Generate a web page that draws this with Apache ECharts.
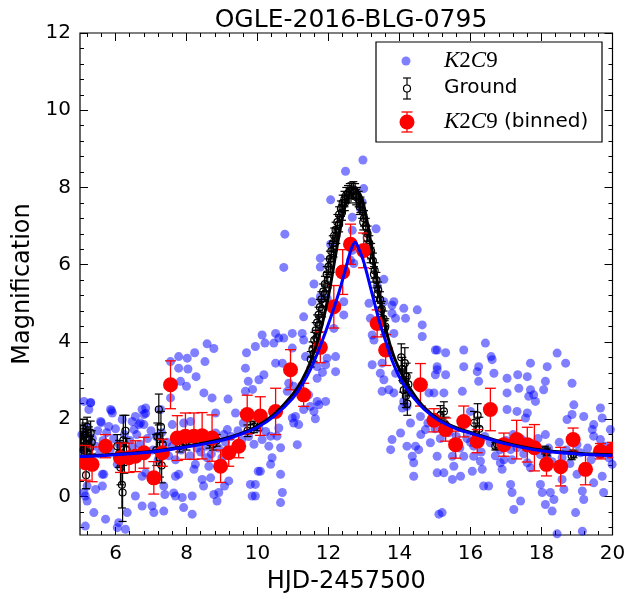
<!DOCTYPE html>
<html><head><meta charset="utf-8">
<script src="https://cdn.jsdelivr.net/npm/echarts@6/dist/echarts.min.js"></script>
<style>html,body{margin:0;padding:0;background:#fff}#c{width:639px;height:599px}</style>
</head><body><div id="c"></div>
<script>
const titleText = 'OGLE-2016-BLG-0795';
const xAxisTitle = 'HJD-2457500';
const yAxisTitle = 'Magnification';
const xMajorTicks = [6, 8, 10, 12, 14, 16, 18, 20];
const yMajorTicks = [0, 2, 4, 6, 8, 10, 12];

// K2C9 raw photometry [x, magnification]
const k2c9Points = [
[8.58,3.95],[8.77,3.83],[7.78,3.62],[8.02,3.58],[8.23,3.72],[7.55,3.49],[7.78,3.32],[8.04,3.30],[8.52,3.49],[8.27,3.10],
[7.83,2.98],[8.0,2.85],[9.69,3.72],[9.94,3.88],[9.66,3.32],[9.74,2.98],[9.66,2.72],[9.86,2.77],[8.49,2.68],[8.72,2.55],
[9.17,2.52],[7.55,2.55],[5.30,2.43],[5.25,2.25],[5.89,2.22],[6.85,2.29],[6.85,2.15],[5.6,1.91],[5.81,1.81],[6.47,1.94],
[6.70,1.90],[6.80,1.86],[6.52,1.73],[7.6,1.86],[7.92,1.90],[8.11,1.94],[8.82,2.16],[8.82,1.64],[9.38,2.16],[9.15,1.73],
[8.63,0.78],[8.21,0.70],[8.44,0.44],[8.48,0.27],[8.68,0.48],[8.77,0.05],[8.86,-0.12],[8.91,0.10],[9.19,0.40],[9.07,0.27],
[7.69,0.52],[7.78,0.57],[7.64,0.09],[7.69,0.01],[7.88,-0.03],[8.16,0.01],[7.39,0.05],[7.36,-0.38],[7.92,-0.29],[8.16,-0.46],
[7.03,-0.25],[7.08,-0.42],[6.75,-0.25],[6.56,0.01],[6.33,-0.42],[6.09,-0.68],[6.05,-0.81],[6.28,-0.85],[5.72,-0.59],[5.39,-0.42],
[5.15,0.01],[5.20,-0.12],[5.44,0.18],[5.15,-0.77],[5.2,0.27],[5.63,0.57],[6.05,0.83],[6.61,1.04],[6.75,0.52],[6.85,0.61],
[7.36,0.27],[7.69,0.95],[8.58,1.0],[9.0,1.0],[9.8,0.31],[9.85,0.01],[10.02,0.65],[8.25,0.83],
[5.11,2.46],[5.30,2.42],[5.58,1.94],[5.86,2.25],[5.91,2.16],[6.19,1.99],[6.56,2.07],[6.66,1.86],[6.75,2.25],[6.80,2.12],
[7.27,2.25],[5.11,0.10],[5.67,0.57],[5.63,0.27],
[10.51,4.22],[10.60,4.10],[10.21,3.97],[10.46,3.97],[10.13,4.18],[11.26,4.22],[11.30,4.05],[10.74,4.10],[10.98,3.84],[10.70,3.45],
[10.51,3.45],[11.35,3.62],[11.68,3.36],[11.92,3.41],[11.96,3.58],[12.2,3.62],[11.83,3.21],[11.68,3.06],[12.2,3.23],[10.18,3.15],
[10.04,3.02],[10.88,2.93],[10.84,2.72],[11.02,2.85],[11.44,2.63],[11.68,2.46],[11.92,2.46],[11.73,2.37],[11.49,2.33],[11.59,2.20],
[11.30,2.25],[11.07,2.07],[10.98,2.03],[11.63,2.01],[11.16,1.86],[11.02,1.90],[10.60,1.77],[10.55,1.56],[10.37,1.56],[10.32,1.30],
[10.04,1.77],[10.23,1.68],[10.13,1.47],[10.65,1.26],[10.41,1.0],[10.08,0.65],[10.37,0.83],[11.12,1.34],[10.65,0.57],[10.70,0.10],
[10.65,-0.16],[9.94,0.31],[9.94,0.01],
[13.23,3.41],[13.51,3.45],[13.46,3.19],[13.56,3.02],[13.23,4.18],[13.28,4.05],[13.84,4.22],[14.64,4.14],[13.89,3.19],[13.51,2.72],
[13.70,2.76],[13.84,2.68],[14.12,2.46],[14.08,2.29],[14.21,2.33],[14.59,2.07],[15.01,3.79],[15.06,3.28],[14.83,2.68],[13.79,1.47],
[13.75,1.21],[14.03,1.64],[14.31,1.90],[14.21,1.30],[14.45,1.30],[14.54,1.21],[14.36,1.04],[14.40,0.87],[14.87,1.39],[14.73,1.73],
[14.40,0.52],[15.11,-0.46],[15.06,0.61],
[16.42,3.97],[15.06,3.79],[15.30,3.72],[15.81,3.79],[16.58,3.62],[16.61,3.54],[15.06,3.36],[15.01,3.15],[15.30,3.15],[15.81,3.36],
[16.23,3.36],[16.19,3.23],[16.23,2.98],[16.66,3.19],[17.03,3.06],[17.33,3.15],[17.60,3.10],[17.69,3.45],[18.16,3.36],[18.44,3.71],
[18.68,3.45],[18.11,2.98],[18.06,2.76],[17.36,2.80],[17.69,2.76],[17.78,2.63],[18.86,2.93],[17.03,2.68],[17.03,2.25],[17.64,2.59],
[17.83,2.46],[14.97,2.68],[15.25,2.68],[15.77,2.72],[16.0,2.20],[17.31,2.20],[17.60,2.16],[17.55,2.03],[18.91,2.37],[18.72,1.99],
[18.86,2.12],[19.19,2.07],[19.66,2.29],[19.71,2.03],[19.47,1.86],[19.43,1.73],[18.11,1.60],[19.47,1.56],[19.66,1.47],[19.94,1.73],
[15.06,1.04],[15.49,1.04],[15.53,0.78],[15.25,0.61],[15.72,0.52],[15.49,0.44],[15.81,1.04],[16.09,1.04],[16.05,0.65],[16.33,0.70],
[16.28,0.91],[16.37,0.27],[16.51,0.27],[16.84,0.87],[16.89,0.70],[17.13,0.31],[17.17,0.10],[17.41,-0.12],[17.22,-0.34],[16.94,0.95],
[17.17,0.95],[17.60,0.87],[17.69,0.74],[17.97,0.31],[18.02,0.10],[18.11,-0.21],[18.25,0.10],[18.35,-0.08],[18.30,-0.38],[18.58,0.44],
[18.63,0.18],[19.0,0.57],[19.24,0.70],[19.47,0.35],[19.15,0.14],[19.19,-0.08],[18.96,-0.42],[19.75,0.10],[19.99,0.83],[19.71,0.52],
[17.97,1.08],[18.16,1.04],[15.20,-0.42],[19.15,-0.90],[18.44,-0.97],[16.09,1.30],[16.56,1.39],[16.84,1.21],[17.13,1.21],[17.31,1.26],
[17.45,1.47],[18.58,1.0],[19.0,1.34],[19.10,1.13],
[12.97,8.71],[12.48,8.42],[12.06,7.68],[12.99,7.97],[12.95,7.62],[12.90,7.45],[10.77,6.79],[13.34,6.93],[12.67,7.23],[12.67,6.89],
[12.06,6.53],[10.74,5.93],[11.77,6.17],[11.77,5.94],[12.71,6.03],[11.59,5.50],[13.56,5.62],[13.37,5.45],[11.54,5.04],[11.77,5.17],
[11.96,5.13],[12.43,5.04],[12.43,4.70],[11.30,4.65],[13.14,5.0],[13.18,4.61],[13.56,5.04],[13.79,4.95],[13.84,5.04],[14.12,4.87],
[14.50,4.83],[14.17,4.61],[13.79,4.74],[13.89,4.61],[14.64,4.44],[10.98,4.22],[12.15,4.35],[12.67,6.37],[12.62,6.12],
[5.05,1.6],[5.1,1.2],[5.2,1.8],[5.35,1.5],[5.45,1.3],[5.5,1.7],[5.55,1.1],[5.65,1.45],[5.75,1.65],[5.85,1.2],
[5.95,1.5],[6.0,1.75],[6.1,1.35],[6.25,1.6],[6.4,1.45],[6.5,1.25],[6.6,1.6],[6.7,1.35],[6.9,1.5],[7.0,1.7],
[7.05,1.2],[7.15,1.55],[7.2,0.95],[7.3,1.65],[7.45,1.4],[7.5,1.05],[7.6,1.3],[7.85,1.2],[8.1,1.05],[8.3,1.25],
[8.4,1.15],[8.55,1.3],[8.7,1.1],[8.9,1.25],[9.05,1.6],[9.1,1.4],[9.25,1.55],[9.3,1.2],[9.45,1.7],[9.55,1.45],
[9.6,1.9],[9.75,1.55],[9.9,1.35],
[14.6,1.6],[14.8,1.9],[15.0,1.75],[15.15,1.5],[15.4,1.65],[15.6,1.55],[15.7,1.25],[15.9,1.5],[16.0,1.4],[16.3,1.15],
[16.4,1.55],[16.7,1.05],[17.0,1.45],[17.2,1.6],[17.5,1.1],[17.7,1.35],[17.9,1.5],[18.2,1.25],[18.3,0.9],[18.5,1.4],
[18.7,1.2],[18.8,0.85],[19.3,1.25],[19.4,0.95],[19.6,1.1],[19.8,1.3],[19.9,1.0]
];

// Ground photometry [x, magnification, error]
const groundPoints = [
[5.02,1.55,0.3],[5.05,1.3,0.3],[5.08,1.75,0.25],[5.1,1.45,0.3],[5.12,1.2,0.35],[5.15,1.6,0.3],[5.17,0.55,0.35],[5.18,1.35,0.3],
[5.2,1.8,0.25],[5.22,1.1,0.35],[5.25,1.5,0.3],[5.28,1.25,0.3],[5.3,1.65,0.3],[5.33,1.4,0.3],
[6.05,1.3,0.3],[6.1,1.1,0.35],[6.14,0.75,0.45],[6.18,0.3,0.6],[6.2,0.1,0.75],[6.22,1.45,0.65],[6.25,1.0,0.4],[6.28,1.7,0.4],[6.31,1.2,0.3],
[7.15,1.2,0.4],[7.18,1.55,0.35],[7.22,2.25,0.4],[7.25,1.0,0.5],[7.28,1.8,0.4],[7.3,0.8,0.45],[7.33,1.35,0.3],
[7.8,1.3,0.15],[7.9,1.42,0.15],[8.0,1.35,0.15],[8.05,1.48,0.15],
[8.65,1.4,0.15],[8.75,1.35,0.15],[8.85,1.45,0.15],
[9.72,1.7,0.15],[9.8,1.78,0.15],[9.9,1.8,0.15],[10.0,1.85,0.15],
[11.5,3.55,0.2],[11.55,3.8,0.2],[11.6,4.05,0.2],[11.64,4.3,0.2],[11.68,4.5,0.2],[11.72,4.7,0.2],[11.76,4.9,0.2],[11.8,5.1,0.2],
[11.85,5.3,0.2],[11.9,5.5,0.2],[11.95,5.75,0.2],[12.0,5.95,0.2],[12.04,6.15,0.2],[12.08,6.35,0.2],[12.12,6.55,0.2],[12.16,6.75,0.2],
[12.2,6.9,0.2],[12.25,7.1,0.2],[12.3,7.3,0.2],[12.35,7.45,0.2],[12.4,7.6,0.2],[12.45,7.7,0.2],[12.5,7.8,0.2],[12.55,7.85,0.2],
[12.6,7.9,0.2],[12.65,7.92,0.2],[12.7,7.95,0.2],[12.75,7.9,0.2],[12.8,7.8,0.2],[12.85,7.7,0.2],[12.9,7.55,0.2],[12.95,7.4,0.2],
[13.0,7.2,0.2],[13.05,7.0,0.2],[13.1,6.8,0.2],[13.15,6.55,0.2],[13.2,6.35,0.2],[13.25,6.1,0.2],[13.3,5.85,0.2],[13.35,5.6,0.2],
[13.4,5.35,0.2],[13.45,5.1,0.2],[13.5,4.85,0.2],[13.55,4.6,0.2],[13.6,4.4,0.2],
[11.58,3.7,0.2],[11.66,4.1,0.2],[11.74,4.45,0.2],[11.82,4.85,0.2],[11.9,5.25,0.2],[11.98,5.6,0.2],[12.06,6.0,0.2],[12.14,6.4,0.2],
[12.22,6.75,0.2],[12.3,7.05,0.2],[12.38,7.35,0.2],[12.46,7.6,0.2],[12.58,7.8,0.2],[12.78,7.75,0.2],[12.88,7.5,0.2],[12.98,7.1,0.2],
[13.08,6.7,0.2],[13.18,6.25,0.2],[13.28,5.75,0.2],[13.38,5.25,0.2],[13.48,4.8,0.2],[13.58,4.35,0.2],
[14.05,3.6,0.35],[14.08,3.3,0.3],[14.1,3.0,0.3],[14.12,2.75,0.35],[14.15,3.45,0.4],[14.18,2.6,0.3],[14.2,3.1,0.35],[14.22,2.4,0.3],[14.25,2.9,0.3],
[15.15,2.1,0.25],[15.2,1.95,0.25],[15.25,2.2,0.25],[15.3,1.85,0.2],
[16.1,1.9,0.3],[16.15,1.6,0.3],[16.2,2.1,0.3],[16.25,1.75,0.3],
[16.7,1.3,0.1],[16.75,1.35,0.1],
[18.1,1.2,0.1],[18.15,1.15,0.1],
[18.85,1.05,0.1],[18.9,1.1,0.1]
];

// K2C9 binned [x, magnification, error]
const binnedPoints = [
[5.15,0.87,0.45],[5.34,0.83,0.45],[5.72,1.30,0.3],[6.14,1.00,0.38],[6.38,1.00,0.38],[6.56,1.04,0.4],[6.80,1.13,0.4],
[7.08,0.48,0.42],[7.32,1.13,0.35],[7.55,2.89,0.62],[7.74,1.51,0.58],[7.97,1.56,0.6],[8.21,1.56,0.6],[8.44,1.57,0.6],
[8.72,1.51,0.6],[8.96,0.78,0.42],[9.19,1.13,0.35],[9.47,1.30,0.3],[9.71,2.12,0.5],[10.08,2.08,0.5],[10.51,2.20,0.6],
[10.93,3.28,0.52],[11.30,2.63,0.3],[11.77,3.86,0.4],[12.15,4.91,0.55],[12.40,5.81,0.58],[12.62,6.53,0.52],[12.99,6.37,0.45],
[13.37,4.48,0.35],[13.61,3.79,0.4],[14.59,2.89,0.55],[14.97,1.97,0.3],[15.30,1.73,0.3],[15.58,1.34,0.35],[15.81,1.94,0.4],
[16.19,1.43,0.3],[16.56,2.25,0.55],[16.94,1.34,0.3],[17.30,1.47,0.5],[17.60,1.34,0.45],[17.80,1.26,0.6],[18.14,0.83,0.3],
[18.54,0.77,0.5],[18.89,1.47,0.3],[19.24,0.70,0.4],[19.66,1.17,0.2],[20.0,1.20,0.2]
];

// Model curves
const groundModelX = [5,6,7,8,9,9.5,10,10.5,11,11.25,11.5,11.75,12,12.2,12.4,12.55,12.72,12.9,13.05,13.25,13.45,13.65,13.85,14.1,14.4,14.7,15.1,15.6,16.2,17,18,19,20];
const groundModelY = [1.04,1.09,1.16,1.30,1.48,1.62,1.83,2.15,2.65,3.0,3.5,4.2,5.2,6.25,7.25,7.75,7.97,7.8,7.3,6.25,5.15,4.2,3.6,3.1,2.65,2.3,2.0,1.78,1.6,1.38,1.2,1.12,1.08];
const k2ModelX = [5,6,7,8,9,9.5,10,10.5,11,11.25,11.5,11.75,12.05,12.3,12.5,12.62,12.75,12.88,13.0,13.2,13.42,13.6,13.8,14.05,14.4,14.7,15.1,15.6,16.2,17,18,19,20];
const k2ModelY = [1.03,1.08,1.15,1.28,1.45,1.6,1.79,2.1,2.55,2.88,3.3,3.85,4.6,5.3,5.95,6.35,6.58,6.35,6.05,5.35,4.57,4.05,3.5,3.0,2.55,2.25,1.97,1.75,1.58,1.36,1.18,1.1,1.06];

const FONT = 'DejaVu Sans';

function minorTicks(start, end, step, majors) {
  const out = [];
  for (let i = 0; ; i++) {
    const v = +(start + i * step).toFixed(4);
    if (v > end + 1e-9) break;
    if (!majors.some(m => Math.abs(m - v) < 1e-6)) out.push(v);
  }
  return out;
}
const xMinor = minorTicks(5.2, 20, 0.4, xMajorTicks);
const yMinor = minorTicks(-0.8, 12, 0.4, yMajorTicks);

function errRender(color, capHalf, r, filled, lw) {
  return function (params, api) {
    const x = api.value(0), y = api.value(1), e = api.value(2);
    const p = api.coord([x, y]);
    const lo = api.coord([x, y - e]);
    const hi = api.coord([x, y + e]);
    const st = { stroke: color, lineWidth: lw };
    return {
      type: 'group',
      children: [
        { type: 'line', shape: { x1: p[0], y1: lo[1], x2: p[0], y2: hi[1] }, style: st },
        { type: 'line', shape: { x1: p[0] - capHalf, y1: lo[1], x2: p[0] + capHalf, y2: lo[1] }, style: st },
        { type: 'line', shape: { x1: p[0] - capHalf, y1: hi[1], x2: p[0] + capHalf, y2: hi[1] }, style: st },
        { type: 'circle', shape: { cx: p[0], cy: p[1], r: r },
          style: filled ? { fill: color } : { fill: 'none', stroke: color, lineWidth: lw } }
      ]
    };
  };
}

function xAx(pos, ticks, len, labels, extra) {
  return Object.assign({
    type: 'value', min: 5, max: 20, position: pos,
    axisLine: { show: false, onZero: false }, splitLine: { show: false },
    axisTick: { show: true, inside: true, length: len, customValues: ticks, lineStyle: { color: '#000', width: 1 } },
    axisLabel: labels ? { show: true, customValues: ticks, color: '#000', fontSize: 20, fontFamily: FONT, margin: 9 } : { show: false }
  }, extra || {});
}
function yAx(pos, ticks, len, labels, extra) {
  return Object.assign({
    type: 'value', min: -1, max: 12, position: pos,
    axisLine: { show: false, onZero: false }, splitLine: { show: false },
    axisTick: { show: true, inside: true, length: len, customValues: ticks, lineStyle: { color: '#000', width: 1 } },
    axisLabel: labels ? { show: true, customValues: ticks, color: '#000', fontSize: 20, fontFamily: FONT, margin: 9 } : { show: false }
  }, extra || {});
}

const chart = echarts.init(document.getElementById('c'), null, { renderer: 'canvas' });
const LX = 376, LY = 42;
chart.setOption({
  animation: false,
  backgroundColor: '#fff',
  title: {
    text: titleText, left: 346, top: 3, textAlign: 'center',
    textStyle: { fontSize: 25, fontWeight: 'normal', color: '#000', fontFamily: FONT }
  },
  grid: { left: 80, right: 26.5, top: 33, bottom: 62, show: true, borderColor: '#000', borderWidth: 1.2, backgroundColor: 'transparent' },
  xAxis: [
    xAx('bottom', xMajorTicks, 8, true, {
      name: xAxisTitle, nameLocation: 'middle', nameGap: 35,
      nameTextStyle: { fontSize: 24, color: '#000', fontFamily: FONT }
    }),
    xAx('bottom', xMinor, 4, false),
    xAx('top', xMajorTicks, 8, false),
    xAx('top', xMinor, 4, false)
  ],
  yAxis: [
    yAx('left', yMajorTicks, 8, true, {
      name: yAxisTitle, nameLocation: 'middle', nameGap: 43, nameRotate: 90,
      nameTextStyle: { fontSize: 24, color: '#000', fontFamily: FONT }
    }),
    yAx('left', yMinor, 4, false),
    yAx('right', yMajorTicks, 8, false),
    yAx('right', yMinor, 4, false)
  ],
  series: [
    {
      name: 'K2C9', type: 'scatter', data: k2c9Points, symbol: 'circle', symbolSize: 9,
      itemStyle: { color: 'rgba(0,0,255,0.5)', opacity: 1 }, emphasis: { disabled: true }, z: 1, clip: true, silent: true
    },
    {
      name: 'Ground', type: 'custom', data: groundPoints, renderItem: errRender('#000', 4, 3.5, false, 1.2),
      z: 2, clip: true, silent: true
    },
    {
      name: 'K2C9 (binned)', type: 'custom', data: binnedPoints, renderItem: errRender('#ff0000', 5.5, 7.5, true, 1.3),
      z: 3, clip: true, silent: true
    },
    {
      name: 'Ground model', type: 'line', data: groundModelX.map((x, i) => [x, groundModelY[i]]),
      showSymbol: false, smooth: 0.35, lineStyle: { color: '#000', width: 3 }, z: 4, silent: true
    },
    {
      name: 'K2C9 model', type: 'line', data: k2ModelX.map((x, i) => [x, k2ModelY[i]]),
      showSymbol: false, smooth: 0.35, lineStyle: { color: '#0000ff', width: 3 }, z: 5, silent: true
    }
  ],
  graphic: [
    { type: 'rect', shape: { x: LX, y: LY, width: 226, height: 100 }, style: { fill: '#fff', stroke: '#000', lineWidth: 1.2 }, z: 100 },
    { type: 'circle', shape: { cx: 406, cy: 61, r: 4.5 }, style: { fill: 'rgba(0,0,255,0.5)' }, z: 101 },
    { type: 'text', x: 444, y: 61, z: 101, style: {
        text: '{i|K}{n|2}{i|C}{n|9}', verticalAlign: 'middle',
        rich: { i: { fontFamily: 'Liberation Serif', fontStyle: 'italic', fontSize: 23, fill: '#000' },
                n: { fontFamily: 'Liberation Serif', fontSize: 23, fill: '#000' } } } },
    { type: 'line', shape: { x1: 407, y1: 78, x2: 407, y2: 99 }, style: { stroke: '#000', lineWidth: 1.2 }, z: 101 },
    { type: 'line', shape: { x1: 403, y1: 78, x2: 411, y2: 78 }, style: { stroke: '#000', lineWidth: 1.2 }, z: 101 },
    { type: 'line', shape: { x1: 403, y1: 99, x2: 411, y2: 99 }, style: { stroke: '#000', lineWidth: 1.2 }, z: 101 },
    { type: 'circle', shape: { cx: 407, cy: 88.5, r: 3.5 }, style: { fill: '#fff', stroke: '#000', lineWidth: 1.2 }, z: 102 },
    { type: 'text', x: 444, y: 88, z: 101, style: { text: 'Ground', fontFamily: FONT, fontSize: 20, fill: '#000', verticalAlign: 'middle' } },
    { type: 'line', shape: { x1: 407, y1: 112, x2: 407, y2: 132 }, style: { stroke: '#ff0000', lineWidth: 1.3 }, z: 101 },
    { type: 'line', shape: { x1: 401.5, y1: 112, x2: 412.5, y2: 112 }, style: { stroke: '#ff0000', lineWidth: 1.3 }, z: 101 },
    { type: 'line', shape: { x1: 401.5, y1: 132, x2: 412.5, y2: 132 }, style: { stroke: '#ff0000', lineWidth: 1.3 }, z: 101 },
    { type: 'circle', shape: { cx: 407, cy: 122, r: 7.5 }, style: { fill: '#ff0000' }, z: 102 },
    { type: 'text', x: 444, y: 122, z: 101, style: {
        text: '{i|K}{n|2}{i|C}{n|9}{s| (binned)}', verticalAlign: 'middle',
        rich: { i: { fontFamily: 'Liberation Serif', fontStyle: 'italic', fontSize: 23, fill: '#000' },
                n: { fontFamily: 'Liberation Serif', fontSize: 23, fill: '#000' },
                s: { fontFamily: FONT, fontSize: 20, fill: '#000' } } } }
  ]
});
</script>
</body></html>
